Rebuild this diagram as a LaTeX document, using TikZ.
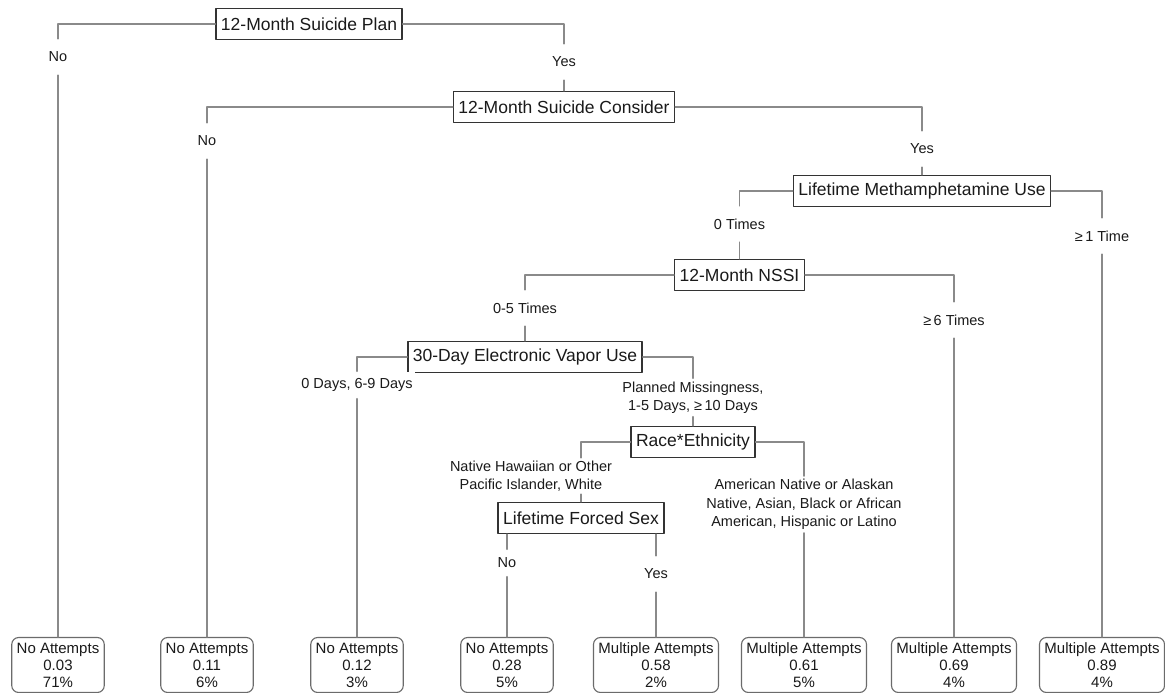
\documentclass[tikz,border=0pt]{standalone}
\usepackage{fontspec}
\setmainfont{Liberation Sans}
\usepackage{tikz}
\definecolor{linegray}{HTML}{8A8A8A}
\definecolor{boxedge}{HTML}{333333}
\definecolor{leafedge}{HTML}{6B6B6B}
\definecolor{ink}{HTML}{1A1A1A}
\tikzset{
    every picture/.style={line cap=round,line join=round},
    splitnode/.style={draw=boxedge,fill=white,line width=1.4pt,
      minimum height=31pt,inner xsep=5pt,inner ysep=2pt,
      text=ink,font=\fontsize{17.5}{21}\selectfont},
    leafnode/.style={draw=leafedge,fill=white,line width=1.1pt,rounded corners=7pt,
      minimum height=55pt,inner xsep=5pt,inner ysep=2pt,
      text=ink,align=center,font=\fontsize{15}{17}\selectfont},
    branchline/.style={draw=linegray,line width=1.5pt},
    branchlabel/.style={fill=white,inner xsep=2pt,inner ysep=0pt,minimum height=36pt,
      text=ink,align=center,font=\fontsize{14.5}{18.5}\selectfont}
}

\begin{document}
\begin{tikzpicture}[x=1pt,y=-1pt]
  \path[use as bounding box] (0,0) rectangle (1165,693);
  % splitting questions
  \node[splitnode] (plan) at (309,24) {12-Month Suicide Plan};
  \node[splitnode] (consider) at (564,107) {12-Month Suicide Consider};
  \node[splitnode] (meth) at (922,191) {Lifetime Methamphetamine Use};
  \node[splitnode] (nssi) at (739.5,275) {12-Month NSSI};
  \node[splitnode] (vapor) at (525,357) {30-Day Electronic Vapor Use};
  \node[splitnode] (race) at (693,442) {Race*Ethnicity};
  \node[splitnode] (forced) at (581,518) {Lifetime Forced Sex};
  % terminal groups
  \node[leafnode] (leafA) at (58,665) {No Attempts\\0.03\\71\%};
  \node[leafnode] (leafB) at (207,665) {No Attempts\\0.11\\6\%};
  \node[leafnode] (leafC) at (357,665) {No Attempts\\0.12\\3\%};
  \node[leafnode] (leafD) at (507,665) {No Attempts\\0.28\\5\%};
  \node[leafnode] (leafE) at (656,665) {Multiple Attempts\\0.58\\2\%};
  \node[leafnode] (leafF) at (804,665) {Multiple Attempts\\0.61\\5\%};
  \node[leafnode] (leafG) at (954,665) {Multiple Attempts\\0.69\\4\%};
  \node[leafnode] (leafH) at (1102,665) {Multiple Attempts\\0.89\\4\%};
  % answers on the branches
  \node[branchlabel] (noPlan) at (58,57) {No};
  \node[branchlabel] (yesPlan) at (564,62) {Yes};
  \node[branchlabel] (noConsider) at (207,141) {No};
  \node[branchlabel] (yesConsider) at (922,149) {Yes};
  \node[branchlabel] (zeroMeth) at (739.5,224) {0 Times};
  \node[branchlabel] (someMeth) at (1102,236) {≥\,1 Time};
  \node[branchlabel] (lowNssi) at (525,308) {0-5 Times};
  \node[branchlabel] (highNssi) at (954,320) {≥\,6 Times};
  \node[branchlabel,minimum height=27pt] (lowVapor) at (357,385) {0 Days, 6-9 Days};
  \node[branchlabel,inner ysep=3pt] (highVapor) at (693,397.5)
    {Planned Missingness,\\1-5 Days, ≥\,10 Days};
  \node[branchlabel,inner ysep=1pt] (nhRace) at (531,476)
    {Native Hawaiian or Other\\Pacific Islander, White};
  \node[branchlabel,inner ysep=3pt] (otherRace) at (804,504.5)
    {American Native or Alaskan\\Native, Asian, Black or African\\American, Hispanic or Latino};
  \node[branchlabel,minimum height=27pt] (noForced) at (507,563) {No};
  \node[branchlabel] (yesForced) at (656,574) {Yes};
  % connectors
  \draw[branchline] (plan.west) -| (noPlan.north);
  \draw[branchline] (noPlan.south) -- (leafA.north);
  \draw[branchline] (plan.east) -| (yesPlan.north);
  \draw[branchline] (yesPlan.south) -- (consider.north);
  \draw[branchline] (consider.west) -| (noConsider.north);
  \draw[branchline] (noConsider.south) -- (leafB.north);
  \draw[branchline] (consider.east) -| (yesConsider.north);
  \draw[branchline] (yesConsider.south) -- (meth.north);
  \draw[branchline] (meth.west) -| (zeroMeth.north);
  \draw[branchline] (zeroMeth.south) -- (nssi.north);
  \draw[branchline] (meth.east) -| (someMeth.north);
  \draw[branchline] (someMeth.south) -- (leafH.north);
  \draw[branchline] (nssi.west) -| (lowNssi.north);
  \draw[branchline] (lowNssi.south) -- (vapor.north);
  \draw[branchline] (nssi.east) -| (highNssi.north);
  \draw[branchline] (highNssi.south) -- (leafG.north);
  \draw[branchline] (vapor.west) -| (lowVapor.north);
  \draw[branchline] (lowVapor.south) -- (leafC.north);
  \draw[branchline] (vapor.east) -| (highVapor.north);
  \draw[branchline] (highVapor.south) -- (race.north);
  \draw[branchline] (race.west) -| (nhRace.north -| forced.north);
  \draw[branchline] (nhRace.south -| forced.north) -- (forced.north);
  \draw[branchline] (race.east) -| (otherRace.north);
  \draw[branchline] (otherRace.south) -- (leafF.north);
  \draw[branchline] (forced.south -| noForced) -- (noForced.north);
  \draw[branchline] (noForced.south) -- (leafD.north);
  \draw[branchline] (forced.south -| yesForced) -- (yesForced.north);
  \draw[branchline] (yesForced.south) -- (leafE.north);
\end{tikzpicture}
\end{document}
